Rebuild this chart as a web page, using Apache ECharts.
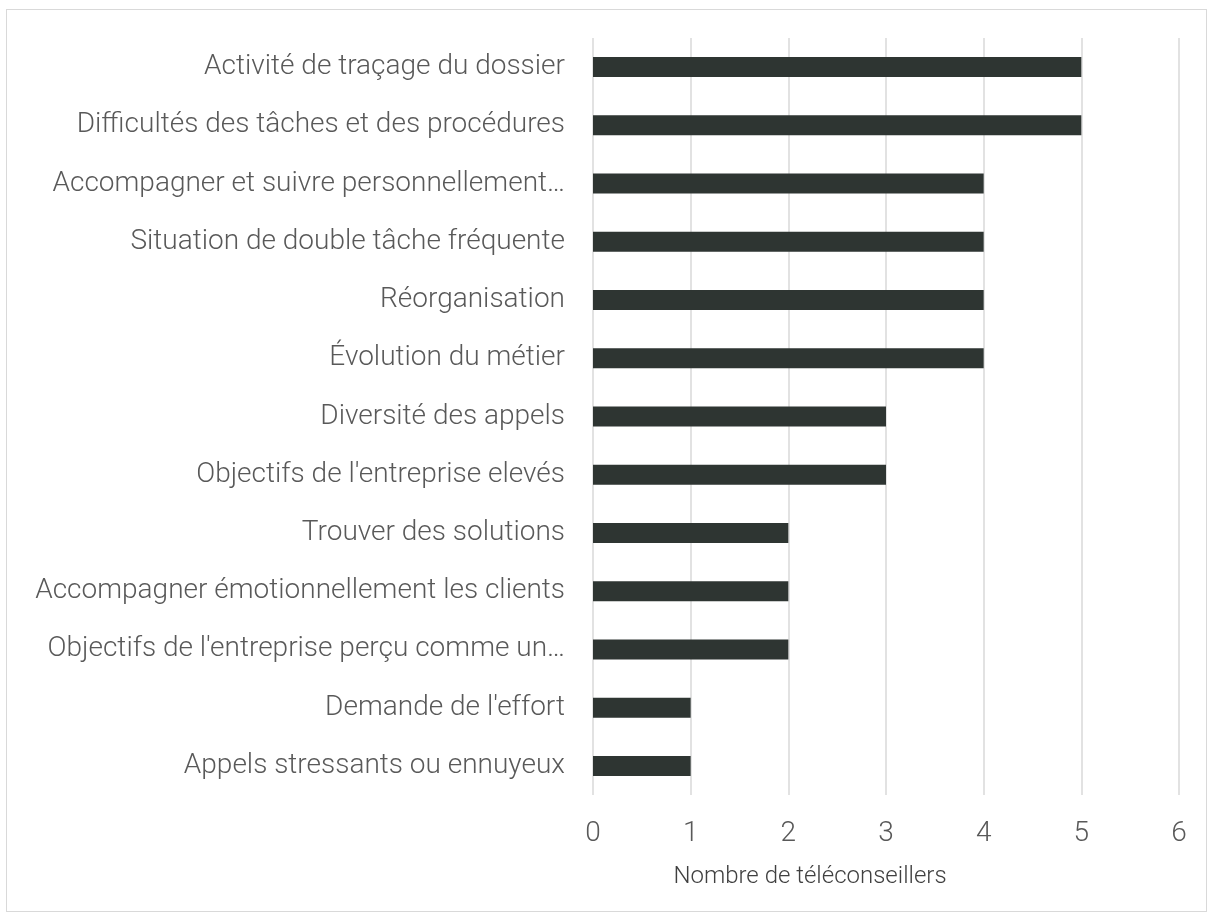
<!DOCTYPE html>
<html>
<head>
<meta charset="utf-8">
<script src="https://cdn.jsdelivr.net/npm/echarts@6/dist/echarts.min.js"></script>
<style>
  html, body { margin: 0; padding: 0; background: #fff; }
  #frame { position: absolute; left: 6px; top: 9px; width: 1201px; height: 903px; border: 1px solid #d9d9d9; box-sizing: border-box; }
  #chart { width: 1211px; height: 919px; position: absolute; left: 0; top: 0; }
</style>
</head>
<body>
<div id="frame"></div>
<div id="chart"></div>
<script>
// categories from top to bottom
var categories = [
	'Activité de traçage du dossier',
	'Difficultés des tâches et des procédures',
	'Accompagner et suivre personnellement…',
	'Situation de double tâche fréquente',
	'Réorganisation',
	'Évolution du métier',
	'Diversité des appels',
	"Objectifs de l'entreprise elevés",
	'Trouver des solutions',
	'Accompagner émotionnellement les clients',
	"Objectifs de l'entreprise perçu comme un…",
	"Demande de l'effort",
	'Appels stressants ou ennuyeux'
];
var values = [5, 5, 4, 4, 4, 4, 3, 3, 2, 2, 2, 1, 1];
var xTicks = [0, 1, 2, 3, 4, 5, 6];

var chart = echarts.init(document.getElementById('chart'));
var option = {
	animation: false,
	textStyle: { fontFamily: 'Roboto', fontWeight: 300 },
	grid: { left: 593, right: 32, top: 38, bottom: 124, containLabel: false },
	xAxis: {
		type: 'value',
		min: xTicks[0],
		max: xTicks[xTicks.length - 1],
		interval: 1,
		name: 'Nombre de téléconseillers',
		nameLocation: 'middle',
		nameGap: 70,
		nameTextStyle: { fontFamily: 'Roboto', fontSize: 24, color: '#404040', fontWeight: 300, padding: [0, 152, 0, 0] },
		axisLine: { show: false },
		axisTick: { show: false },
		axisLabel: { fontFamily: 'Roboto', fontSize: 28, color: '#595959', fontWeight: 300, margin: 25 },
		splitLine: { show: true, lineStyle: { color: '#d9d9d9', width: 1.5 } }
	},
	yAxis: {
		type: 'category',
		inverse: true,
		data: categories,
		axisLine: { show: false },
		axisTick: { show: false },
		axisLabel: { fontFamily: 'Roboto', fontSize: 28, color: '#595959', fontWeight: 300, margin: 28 }
	},
	series: [{
		type: 'bar',
		data: values,
		barWidth: 20,
		itemStyle: { color: '#2e3532' }
	}]
};
chart.setOption(option);
</script>
</body>
</html>
